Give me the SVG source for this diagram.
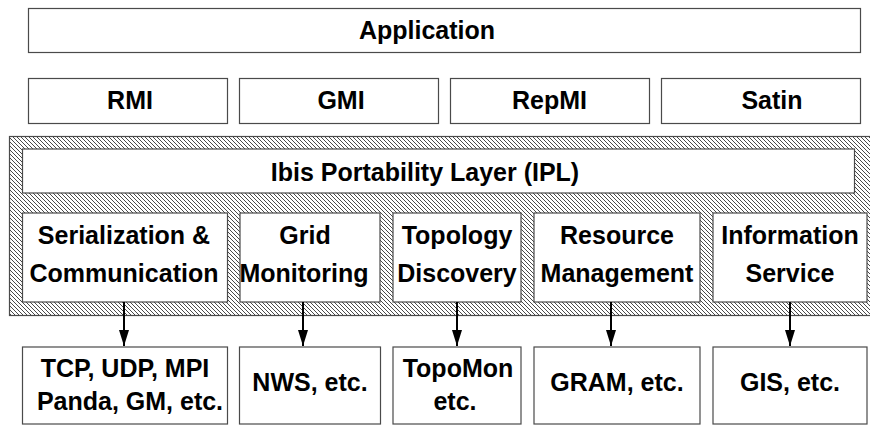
<svg xmlns="http://www.w3.org/2000/svg" width="870" height="425" viewBox="0 0 870 425">
<defs>
<pattern id="hatch" patternUnits="userSpaceOnUse" width="4" height="4">
<rect width="4" height="4" fill="#ffffff"/>
<path d="M-1,-1 L5,5 M-1,3 L1,5 M3,-1 L5,1" stroke="#4a4a4a" stroke-width="1"/>
</pattern>
<marker id="arr" markerUnits="userSpaceOnUse" markerWidth="17" markerHeight="12" refX="16" refY="6" orient="auto">
<path d="M0,1 L16,6 L0,11 Z" fill="#000"/>
</marker>
<style>
.box{fill:#fff;stroke:#4a4a4a;stroke-width:1.2}
.t{font-family:"Liberation Sans",Arial,sans-serif;font-weight:bold;font-size:25px;fill:#000;text-anchor:middle}
.c{stroke:#000;stroke-width:2;fill:none}
</style>
</defs>
<rect x="0" y="0" width="870" height="425" fill="#fff"/>
<g id="application"><rect class="box" x="28.5" y="8.5" width="832" height="44"/><text class="t" x="427" y="39">Application</text></g>
<g id="rmi"><rect class="box" x="28.5" y="78.5" width="199" height="45"/><text class="t" x="130" y="109">RMI</text></g>
<g id="gmi"><rect class="box" x="239.5" y="78.5" width="199" height="45"/><text class="t" x="341" y="109">GMI</text></g>
<g id="repmi"><rect class="box" x="450.5" y="78.5" width="199" height="45"/><text class="t" x="549.5" y="109">RepMI</text></g>
<g id="satin"><rect class="box" x="661.5" y="78.5" width="199" height="45"/><text class="t" x="772" y="109">Satin</text></g>
<g id="ipl-layer"><rect x="9.5" y="136.5" width="870" height="179" fill="url(#hatch)" stroke="#4a4a4a" stroke-width="1.2"/></g>
<g id="ipl"><rect class="box" x="22.5" y="149" width="832" height="44"/><text class="t" x="425" y="181">Ibis Portability Layer (IPL)</text></g>
<g id="serialization"><rect class="box" x="22.5" y="213" width="205" height="89"/><text class="t" x="124" y="244">Serialization &amp;</text><text class="t" x="124" y="282">Communication</text></g>
<g id="grid-monitoring"><rect class="box" x="240" y="213" width="140" height="89"/><text class="t" x="305" y="244">Grid</text><text class="t" x="304" y="282">Monitoring</text></g>
<g id="topology-discovery"><rect class="box" x="393" y="213" width="128" height="89"/><text class="t" x="457" y="244">Topology</text><text class="t" x="457" y="282">Discovery</text></g>
<g id="resource-management"><rect class="box" x="534" y="213" width="166" height="89"/><text class="t" x="617" y="244">Resource</text><text class="t" x="617" y="282">Management</text></g>
<g id="information-service"><rect class="box" x="713" y="213" width="154" height="89"/><text class="t" x="790" y="244">Information</text><text class="t" x="790" y="282">Service</text></g>
<g id="tcp"><rect class="box" x="22.5" y="347" width="205" height="77"/><text class="t" x="125" y="377">TCP, UDP, MPI</text><text class="t" x="130" y="410">Panda, GM, etc.</text></g>
<g id="nws"><rect class="box" x="239.5" y="347" width="141" height="77"/><text class="t" x="310" y="391">NWS, etc.</text></g>
<g id="topomon"><rect class="box" x="393" y="347" width="128" height="77"/><text class="t" x="458" y="377">TopoMon</text><text class="t" x="455" y="410">etc.</text></g>
<g id="gram"><rect class="box" x="534" y="347" width="166" height="77"/><text class="t" x="617" y="391">GRAM, etc.</text></g>
<g id="gis"><rect class="box" x="713" y="347" width="154" height="77"/><text class="t" x="790" y="391">GIS, etc.</text></g>
<g id="connectors">
<line class="c" x1="124" y1="302" x2="124" y2="346" marker-end="url(#arr)"/>
<line class="c" x1="303" y1="302" x2="303" y2="346" marker-end="url(#arr)"/>
<line class="c" x1="457" y1="302" x2="457" y2="346" marker-end="url(#arr)"/>
<line class="c" x1="611" y1="302" x2="611" y2="346" marker-end="url(#arr)"/>
<line class="c" x1="790" y1="302" x2="790" y2="346" marker-end="url(#arr)"/>
</g>
</svg>
